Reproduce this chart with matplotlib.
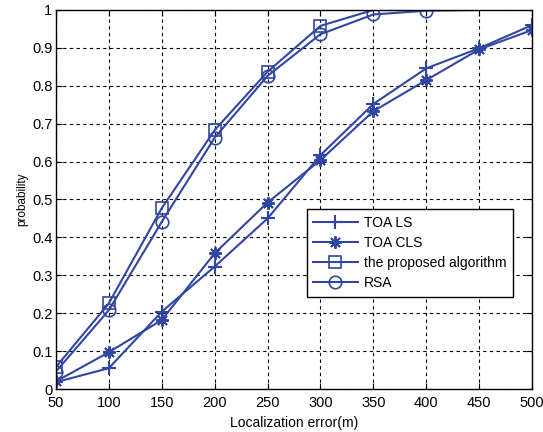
import matplotlib
matplotlib.use('Agg')
import matplotlib.pyplot as plt

# localization error thresholds (m)
errors = [50, 100, 150, 200, 250, 300, 350, 400, 450, 500]

# cumulative probability for each method
toa_ls = [0.018, 0.055, 0.204, 0.323, 0.450, 0.617, 0.752, 0.846, 0.899, 0.960]
toa_cls = [0.020, 0.097, 0.182, 0.358, 0.492, 0.604, 0.733, 0.815, 0.896, 0.947]
proposed = [0.058, 0.226, 0.477, 0.683, 0.837, 0.958, 1.0, 1.0, 1.0, 1.0]
rsa = [0.046, 0.208, 0.441, 0.663, 0.826, 0.936, 0.988, 0.998, 1.0, 1.0]

x_ticks = [50, 100, 150, 200, 250, 300, 350, 400, 450, 500]
y_ticks = [0, 0.1, 0.2, 0.3, 0.4, 0.5, 0.6, 0.7, 0.8, 0.9, 1]
y_labels = ['0', '0.1', '0.2', '0.3', '0.4', '0.5', '0.6', '0.7', '0.8', '0.9', '1']

plt.rcParams['font.family'] = ['Liberation Sans', 'DejaVu Sans']
color = '#3145a3'
asterisk = (8, 2, 0)  # eight-spoke star like a plus and an x together

fig = plt.figure(figsize=(5.43, 4.32), dpi=100)
ax = fig.add_axes([0.103, 0.0995, 0.877, 0.8775])

ax.plot(errors, toa_ls, '-+', color=color, lw=1.5, ms=10, mew=1.5, label='TOA LS')
ax.plot(errors, toa_cls, '-', marker=asterisk, color=color, lw=1.5, ms=9, mew=1.4,
        label='TOA CLS')
# markers sitting on the top border are not shown
ax.plot(errors, proposed, '-s', color=color, lw=1.5, ms=8, mew=1.2, mfc='none',
        markevery=[0, 1, 2, 3, 4, 5], label='the proposed algorithm')
ax.plot(errors, rsa, '-o', color=color, lw=1.5, ms=9, mew=1.2, mfc='none',
        markevery=[0, 1, 2, 3, 4, 5, 6, 7], label='RSA')

ax.set_xlim(50, 500)
ax.set_ylim(0, 1)
ax.set_xticks(x_ticks)
ax.set_yticks(y_ticks)
ax.set_yticklabels(y_labels)
ax.tick_params(direction='in', top=True, right=True, labelsize=10.5, length=4)
ax.tick_params(axis='x', pad=5)
ax.tick_params(axis='y', pad=2.5)
ax.grid(True, color='black', linestyle=(0, (3, 3)), linewidth=0.8)
for s in ax.spines.values():
    s.set_linewidth(1.0)

ax.set_xlabel('Localization error(m)', fontsize=10, labelpad=4)
ax.set_ylabel('probability', fontsize=8.5, labelpad=3)

leg = ax.legend(loc='upper left', bbox_to_anchor=(0.527, 0.474), fontsize=10,
                frameon=True, fancybox=False, framealpha=1, edgecolor='black',
                borderpad=0.45, labelspacing=0.45, handlelength=3.2,
                handletextpad=0.45, borderaxespad=0)
leg.get_frame().set_linewidth(1.0)

fig.savefig('out.png', dpi=100)
